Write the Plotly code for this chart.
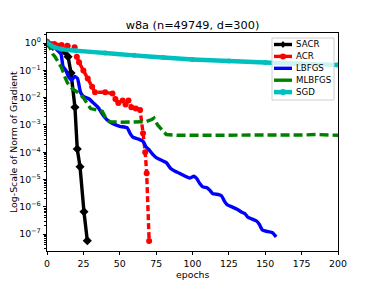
import numpy as np
import plotly.graph_objects as go

# ---- data (log10 of gradient norm) ----
sacr_epochs = [0, 4, 8, 12, 14.5, 16.5, 19.2, 20.8, 22.7, 25.4, 27.7]
sacr_log10 = [0.0, -0.12, -0.22, -0.3, -0.5, -1.1, -2.35, -3.88, -4.53, -6.18, -7.24]

acr_epochs = [0, 5, 10, 14, 19, 20.5, 22, 25, 28, 31, 33, 40, 45, 47, 49, 52, 54, 56, 58, 61, 64, 66, 67.5, 68.5, 70.2]
acr_log10 = [0.05, -0.03, -0.07, -0.1, -0.15, -0.5, -0.7, -1.0, -1.3, -1.6, -1.8, -1.8, -1.85, -2.05, -2.2, -2.1,
             -2.25, -2.1, -2.35, -2.4, -2.45, -3.3, -4.0, -4.77, -7.25]

lbfgs_epochs = [0, 3, 6, 9.6, 11, 13, 15, 17, 19, 21, 23, 25, 29, 32, 35, 38, 41, 45, 50, 55, 57, 59, 63, 66, 68, 70,
                73, 75, 79, 82, 85, 88, 91, 95, 98, 101, 103, 105, 107, 110, 112, 114, 118, 120, 122, 124, 127, 131,
                134, 136, 138, 141, 144, 146, 148, 151, 155, 157.5]
lbfgs_log10 = [0.05, -0.1, -0.2, -0.4, -0.85, -1.0, -1.25, -1.35, -1.22, -1.3, -1.8, -1.95, -2.05, -2.2, -2.35, -2.6,
               -2.8, -2.95, -3.05, -3.1, -3.3, -3.45, -3.52, -3.6, -3.8, -3.9, -4.1, -4.2, -4.3, -4.38, -4.6, -4.7,
               -4.77, -4.88, -4.95, -4.88, -4.97, -5.15, -5.27, -5.3, -5.4, -5.52, -5.55, -5.6, -5.8, -5.93, -6.0,
               -6.1, -6.2, -6.25, -6.38, -6.45, -6.52, -6.65, -6.85, -6.9, -6.95, -7.1]

mlbfgs_epochs = [0, 2, 4, 5.5, 8, 10, 12, 14, 16, 18, 21, 25, 28, 30, 34, 38, 40, 43, 50, 60, 68, 72, 73.5, 76, 79, 82,
                 90, 100, 120, 140, 160, 175, 185, 190, 200]
mlbfgs_log10 = [0.05, -0.2, -0.4, -0.5, -0.7, -0.9, -1.2, -1.45, -1.6, -1.7, -1.8, -2.0, -2.25, -2.4, -2.45, -2.5,
                -2.7, -2.88, -2.9, -2.9, -2.88, -2.8, -2.75, -3.0, -3.2, -3.35, -3.38, -3.37, -3.38, -3.37, -3.38,
                -3.37, -3.35, -3.36, -3.38]

sgd_epochs = [0, 5, 10, 20, 40, 60, 80, 100, 125, 150, 175, 200]
sgd_log10 = [0.02, -0.15, -0.22, -0.28, -0.36, -0.45, -0.53, -0.6, -0.66, -0.71, -0.76, -0.8]

series_names = ["SACR", "ACR", "LBFGS", "MLBFGS", "SGD"]
x_ticks = [0, 25, 50, 75, 100, 125, 150, 175, 200]
y_exponents = [0, -1, -2, -3, -4, -5, -6, -7]
y_ticklabels = ["10<sup>0</sup>", "10<sup>\u22121</sup>", "10<sup>\u22122</sup>", "10<sup>\u22123</sup>",
                "10<sup>\u22124</sup>", "10<sup>\u22125</sup>", "10<sup>\u22126</sup>", "10<sup>\u22127</sup>"]

FONT = "DejaVu Sans"
FS = 9.4        # tick / label / legend font size
FS_TITLE = 11.3
CYAN = "#00BFBF"
LW = 3.4

# page body has an 8px margin: figure is placed at (8, 8) in the window
OFF = 8
W, H = 376 - OFF, 282 - OFF
PL, PR, PT, PB = 47, 338, 33, 251  # plot box in window pixels
PW, PH = PR - PL, PB - PT


def px(x):
    return (x - PL) / PW


def py(y):
    return (PB - y) / PH


fig = go.Figure()
fig.add_trace(go.Scatter(x=sacr_epochs, y=10 ** np.array(sacr_log10), name="SACR", mode="lines+markers",
                         line=dict(color="black", width=LW),
                         marker=dict(symbol="diamond", size=7, color="black")))
fig.add_trace(go.Scatter(x=acr_epochs, y=10 ** np.array(acr_log10), name="ACR", mode="lines+markers",
                         line=dict(color="red", width=LW, dash="6px,3px"),
                         marker=dict(symbol="circle", size=6, color="red")))
fig.add_trace(go.Scatter(x=lbfgs_epochs, y=10 ** np.array(lbfgs_log10), name="LBFGS", mode="lines",
                         line=dict(color="blue", width=LW, shape="spline", smoothing=0.4)))
fig.add_trace(go.Scatter(x=mlbfgs_epochs, y=10 ** np.array(mlbfgs_log10), name="MLBFGS", mode="lines",
                         line=dict(color="green", width=LW, dash="9px,4px")))
fig.add_trace(go.Scatter(x=sgd_epochs, y=10 ** np.array(sgd_log10), name="SGD", mode="lines+markers",
                         line=dict(color=CYAN, width=4.5, shape="spline", smoothing=0.6),
                         marker=dict(symbol="circle", size=5, color=CYAN)))

minor_vals = [k * 10.0 ** e for e in range(-8, 1) for k in range(2, 10)]

fig.update_layout(
    width=W, height=H,
    margin=dict(l=PL - OFF, r=376 - PR, t=PT - OFF, b=282 - PB),
    paper_bgcolor="white", plot_bgcolor="white",
    font=dict(family=FONT, size=FS, color="black"),
    title=dict(text="w8a (n=49749, d=300)", font=dict(size=FS_TITLE, family=FONT, color="black"),
               x=((PL + PR) / 2 - OFF) / W, xanchor="center", y=1 - (25 - OFF) / H, yanchor="middle",
               yref="container"),
    showlegend=False,
)
fig.update_xaxes(range=[0, 200], tickmode="array", tickvals=x_ticks, ticks="outside", ticklen=3.3, tickwidth=1,
                 tickcolor="black", showline=True, linecolor="black", linewidth=1, mirror=True,
                 showgrid=False, zeroline=False, tickfont=dict(size=FS, family=FONT))
fig.update_yaxes(type="log", range=[-7.62, 0.37], tickmode="array",
                 tickvals=[10.0 ** e for e in y_exponents], ticktext=y_ticklabels,
                 ticks="outside", ticklen=3.3, tickwidth=1, tickcolor="black",
                 showline=True, linecolor="black", linewidth=1, mirror=True,
                 showgrid=False, zeroline=False, tickfont=dict(size=FS, family=FONT),
                 minor=dict(tickmode="array", tickvals=minor_vals, ticks="outside", ticklen=1.9,
                            tickcolor="black", tickwidth=0.6, showgrid=False))

fig.add_annotation(text="epochs", xref="paper", yref="paper", x=0.5, y=-(274.5 - PB) / PH,
                   xanchor="center", yanchor="middle", showarrow=False, font=dict(size=FS, family=FONT))
fig.add_annotation(text="Log-Scale of Norm of Gradient", xref="paper", yref="paper", x=px(13),
                   y=0.5, xanchor="center", yanchor="middle", textangle=-90, showarrow=False,
                   font=dict(size=FS, family=FONT))

# ---- legend (matplotlib-style box in the upper right) ----
LX0, LX1, LY0, LY1 = 272, 334, 38, 100
fig.add_shape(type="rect", xref="paper", yref="paper", x0=px(LX0), x1=px(LX1), y0=py(LY1), y1=py(LY0),
              line=dict(color="#d0d0d0", width=1), fillcolor="rgba(255,255,255,0.8)", layer="above")
styles = [
    dict(color="black", width=LW, marker="diamond"),
    dict(color="red", width=LW, marker="circle"),
    dict(color="blue", width=LW, marker=None),
    dict(color="green", width=LW, marker=None),
    dict(color=CYAN, width=4.5, marker="circle"),
]
row_y = [44.5, 56.4, 68.3, 80.2, 92.1]
HX0, HX1, HXC = 274, 292, 283
for name, st, ry in zip(series_names, styles, row_y):
    fig.add_shape(type="line", xref="paper", yref="paper", x0=px(HX0), x1=px(HX1), y0=py(ry), y1=py(ry),
                  line=dict(color=st["color"], width=st["width"]), layer="above")
    if st["marker"] == "circle":
        r = 3
        fig.add_shape(type="circle", xref="paper", yref="paper", x0=px(HXC - r), x1=px(HXC + r),
                      y0=py(ry + r), y1=py(ry - r), line=dict(width=0), fillcolor=st["color"], layer="above")
    elif st["marker"] == "diamond":
        r = 3.5
        path = (f"M {px(HXC)},{py(ry - r)} L {px(HXC + r * 0.8)},{py(ry)} "
                f"L {px(HXC)},{py(ry + r)} L {px(HXC - r * 0.8)},{py(ry)} Z")
        fig.add_shape(type="path", xref="paper", yref="paper", path=path, line=dict(width=0),
                      fillcolor=st["color"], layer="above")
    fig.add_annotation(text=name, xref="paper", yref="paper", x=px(294), y=py(ry), xanchor="left",
                       yanchor="middle", showarrow=False, font=dict(size=FS * 0.92, family=FONT))

fig.write_html("out.html")
